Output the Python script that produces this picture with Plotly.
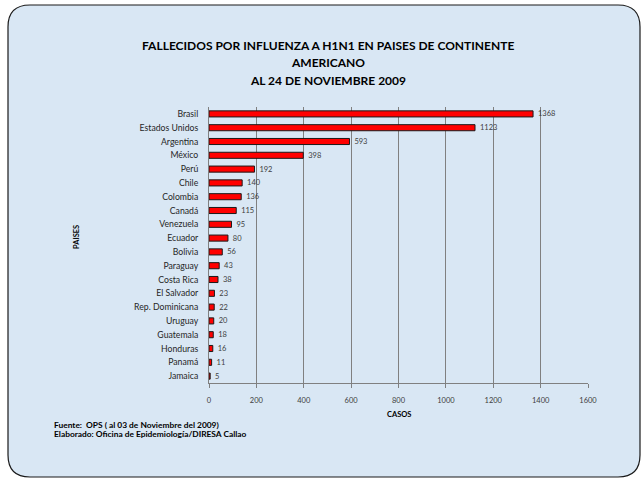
import plotly.graph_objects as go

paises = ["Brasil", "Estados Unidos", "Argentina", "México", "Perú", "Chile", "Colombia",
          "Canadá", "Venezuela", "Ecuador", "Bolivia", "Paraguay", "Costa Rica", "El Salvador",
          "Rep. Dominicana", "Uruguay", "Guatemala", "Honduras", "Panamá", "Jamaica"]
casos = [1368, 1123, 593, 398, 192, 140, 136, 115, 95, 80, 56, 43, 38, 23, 22, 20, 18, 16, 11, 5]
x_ticks = [0, 200, 400, 600, 800, 1000, 1200, 1400, 1600]

W, H = 644, 479
L, R, T, B = 209, 588, 107, 383
FONT = "Lato"


def px(x):
    return (x - L) / (R - L)


def py(y):
    return (B - y) / (B - T)


def rounded_path(x0, y0, x1, y1, r):
    rx = r / (R - L)
    ry = r / (B - T)
    X0, X1 = px(x0), px(x1)
    Y0, Y1 = py(y0), py(y1)  # Y0 top (larger), Y1 bottom
    return (f"M {X0+rx},{Y0} L {X1-rx},{Y0} Q {X1},{Y0} {X1},{Y0-ry} "
            f"L {X1},{Y1+ry} Q {X1},{Y1} {X1-rx},{Y1} "
            f"L {X0+rx},{Y1} Q {X0},{Y1} {X0},{Y1+ry} "
            f"L {X0},{Y0-ry} Q {X0},{Y0} {X0+rx},{Y0} Z")


fig = go.Figure()
fig.add_trace(go.Bar(
    y=paises, x=casos, orientation="h",
    marker=dict(color="#ff0000", line=dict(color="#1a1a1a", width=1)),
    text=[f" {v}" for v in casos], textposition="outside", constraintext="none",
    textfont=dict(family=FONT, size=7.5, color="#404040"),
    cliponaxis=False, hoverinfo="x+y",
))

fig.add_shape(type="path", xref="paper", yref="paper", layer="below",
              path=rounded_path(8, 5, 640, 477, 22),
              fillcolor="#d9e7f4", line=dict(color="#1a1a1a", width=1.2))

fig.update_layout(
    width=W, height=H,
    margin=dict(l=L, r=W - R, t=T, b=H - B, pad=0),
    paper_bgcolor="white", plot_bgcolor="rgba(0,0,0,0)",
    showlegend=False, bargap=0.56,
    font=dict(family=FONT),
    xaxis=dict(range=[0, 1600], tickvals=x_ticks, showgrid=True, gridcolor="#808080",
               gridwidth=1, showline=True, linecolor="#808080", linewidth=1,
               ticks="outside", ticklen=4, tickcolor="#808080", zeroline=False,
               tickfont=dict(family=FONT, size=7.5, color="#404040"), ticklabelstandoff=6),
    yaxis=dict(autorange="reversed", showline=True, linecolor="#808080", linewidth=1,
               showgrid=False, ticks="", tickfont=dict(family=FONT, size=8.7, color="#262626"),
               ticklabelstandoff=8, range=[19.5, -0.5]),
)

anns = [
    dict(text="<b>FALLECIDOS POR INFLUENZA A H1N1 EN PAISES DE CONTINENTE</b>", x=328, y=46, size=12),
    dict(text="<b>AMERICANO</b>", x=328, y=63, size=12),
    dict(text="<b>AL 24 DE NOVIEMBRE 2009</b>", x=328, y=80, size=12),
    dict(text="<b>CASOS</b>", x=399, y=414, size=7.5),
]
for a in anns:
    fig.add_annotation(text=a["text"], x=px(a["x"]), y=py(a["y"]), xref="paper", yref="paper",
                       showarrow=False, xanchor="center", yanchor="middle",
                       font=dict(family=FONT, size=a["size"], color="#000000"))

fig.add_annotation(text="<b>PAISES</b>", x=px(76), y=py(237), xref="paper", yref="paper",
                   showarrow=False, textangle=-90, xanchor="center", yanchor="middle",
                   font=dict(family=FONT, size=7.5, color="#000000"))
fig.add_annotation(text="<b>Fuente:  OPS ( al 03 de Noviembre del 2009)</b>", x=px(52), y=py(425),
                   xref="paper", yref="paper", showarrow=False, xanchor="left", yanchor="middle",
                   font=dict(family=FONT, size=8.4, color="#000000"))
fig.add_annotation(text="<b>Elaborado: Oficina de Epidemiología/DIRESA Callao</b>", x=px(52), y=py(434),
                   xref="paper", yref="paper", showarrow=False, xanchor="left", yanchor="middle",
                   font=dict(family=FONT, size=8.4, color="#000000"))

fig.write_html("out.html", config={"displayModeBar": False},
               post_script="document.body.style.margin='0';document.body.style.overflow='hidden';")
